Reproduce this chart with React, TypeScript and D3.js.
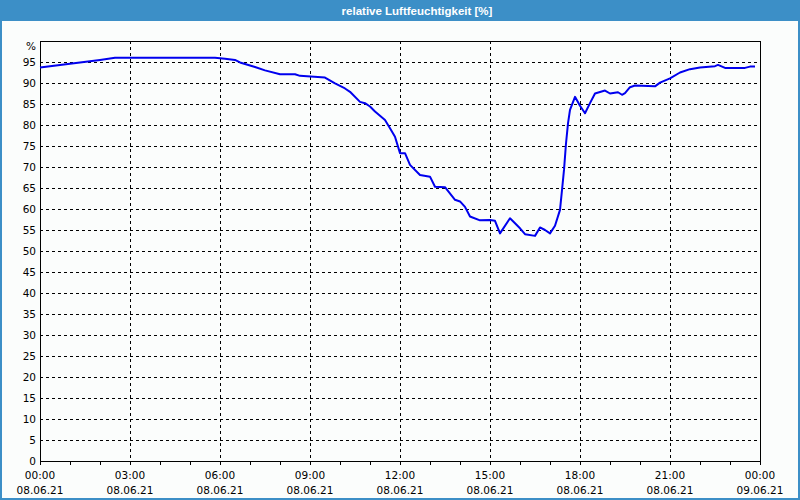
import React from "react";
import * as d3 from "d3";

const title = "relative Luftfeuchtigkeit [%]";
const unitLabel = "%";

const times = [
  "00:00", "00:40", "01:20", "02:00", "02:30", "05:50", "06:10", "06:30", "06:40", "07:10",
  "07:30", "08:00", "08:30", "08:40", "09:30", "09:50", "10:10", "10:20", "10:40", "10:50",
  "11:00", "11:10", "11:30", "11:40", "11:50", "12:00", "12:10", "12:20", "12:40", "13:00",
  "13:10", "13:30", "13:50", "14:00", "14:10", "14:20", "14:40", "15:00", "15:10", "15:20",
  "15:40", "16:00", "16:10", "16:30", "16:40", "16:50", "17:00", "17:10", "17:20", "17:24",
  "17:28", "17:32", "17:36", "17:40", "17:50", "18:00", "18:10", "18:20", "18:30", "18:50",
  "19:00", "19:16", "19:24", "19:30", "19:40", "19:50", "20:30", "20:40", "21:00", "21:20",
  "21:40", "22:00", "22:30", "22:36", "22:50", "23:30", "23:40", "23:50",
];

const humidity = [
  93.7, 94.3, 94.9, 95.5, 96.0, 96.0, 95.8, 95.5, 94.9, 93.8,
  93.0, 92.1, 92.1, 91.7, 91.3, 89.9, 88.7, 87.9, 85.5, 85.2,
  84.4, 83.2, 81.2, 79.2, 77.2, 73.3, 73.3, 70.5, 68.1, 67.7,
  65.3, 65.2, 62.2, 61.8, 60.5, 58.2, 57.3, 57.4, 57.2, 54.2,
  57.8, 55.4, 54.0, 53.6, 55.6, 55.0, 54.2, 56.0, 59.8, 64.5,
  69.3, 75.6, 80.4, 83.6, 86.7, 84.6, 82.8, 85.2, 87.5, 88.2,
  87.5, 87.8, 87.2, 87.6, 89.0, 89.4, 89.2, 90.1, 91.1, 92.5,
  93.3, 93.7, 94.0, 94.3, 93.6, 93.6, 93.9, 93.9,
];

const yTicks = d3.range(0, 100, 5);
const xMajorHours = [0, 3, 6, 9, 12, 15, 18, 21, 24];
const xTimeLabels = ["00:00", "03:00", "06:00", "09:00", "12:00", "15:00", "18:00", "21:00", "00:00"];
const xDateLabels = ["08.06.21", "08.06.21", "08.06.21", "08.06.21", "08.06.21", "08.06.21", "08.06.21", "08.06.21", "09.06.21"];
const xMinorHours = d3.range(0, 25, 1);

const W = 800;
const H = 500;
const font = "'DejaVu Sans', sans-serif";

function toHours(t: string) {
  const [h, m] = t.split(":").map(Number);
  return h + m / 60;
}

export default function App() {
  const x = d3.scaleLinear().domain([0, 24]).range([40, 760]);
  const y = d3.scaleLinear().domain([0, 100]).range([461, 41]);
  const data = times.map((t, i) => ({ h: toHours(t), v: humidity[i] }));
  const line = d3
    .line<{ h: number; v: number }>()
    .x((d) => x(d.h))
    .y((d) => y(d.v));

  return (
    <svg
      width={W}
      height={H}
      style={{ position: "absolute", left: 0, top: 0, display: "block" }}
      fontFamily={font}
    >
      <rect x={0} y={0} width={W} height={H} fill="#3c8fc7" />
      <rect x={2} y={21} width={W - 4} height={H - 23} fill="#fbfdfc" />
      <text
        x={417}
        y={11}
        fill="#ffffff"
        fontFamily="'Liberation Sans', sans-serif"
        fontWeight="bold"
        fontSize={11.5}
        textAnchor="middle"
        dominantBaseline="central"
      >
        {title}
      </text>

      {/* horizontal grid */}
      {yTicks
        .filter((t) => t > 0)
        .map((t) => (
          <line
            key={"gy" + t}
            x1={x(0)}
            x2={x(24)}
            y1={Math.round(y(t)) + 0.5}
            y2={Math.round(y(t)) + 0.5}
            stroke="#000"
            strokeDasharray="3,3"
            shapeRendering="crispEdges"
          />
        ))}
      {/* vertical grid */}
      {xMajorHours
        .filter((h) => h > 0 && h < 24)
        .map((h) => (
          <line
            key={"gx" + h}
            x1={Math.round(x(h)) + 0.5}
            x2={Math.round(x(h)) + 0.5}
            y1={y(100)}
            y2={y(0)}
            stroke="#000"
            strokeDasharray="3,3"
            shapeRendering="crispEdges"
          />
        ))}

      {/* frame */}
      <rect
        x={x(0) + 0.5}
        y={y(100) + 0.5}
        width={x(24) - x(0)}
        height={y(0) - y(100)}
        fill="none"
        stroke="#000"
        shapeRendering="crispEdges"
      />

      {/* x minor ticks */}
      {xMinorHours.map((h) => (
        <line
          key={"tk" + h}
          x1={Math.round(x(h)) + 0.5}
          x2={Math.round(x(h)) + 0.5}
          y1={y(0)}
          y2={y(0) + 4}
          stroke="#000"
          shapeRendering="crispEdges"
        />
      ))}

      {/* y labels */}
      {yTicks.map((t) => (
        <text
          key={"yl" + t}
          x={36}
          y={y(t)}
          fontSize={10.5}
          textAnchor="end"
          dominantBaseline="central"
          fill="#000"
        >
          {t}
        </text>
      ))}
      <text x={36} y={46} fontSize={10.5} textAnchor="end" dominantBaseline="central" fill="#000">
        {unitLabel}
      </text>

      {/* x labels */}
      {xMajorHours.map((h, i) => (
        <g key={"xl" + h}>
          <text
            x={x(h)}
            y={475}
            fontSize={10.5}
            textAnchor="middle"
            dominantBaseline="central"
            fill="#000"
          >
            {xTimeLabels[i]}
          </text>
          <text
            x={x(h)}
            y={490}
            fontSize={10.5}
            textAnchor="middle"
            dominantBaseline="central"
            fill="#000"
          >
            {xDateLabels[i]}
          </text>
        </g>
      ))}

      <path
        d={line(data) || ""}
        fill="none"
        stroke="#0000ee"
        strokeWidth={2}
        strokeLinejoin="round"
      />
    </svg>
  );
}
